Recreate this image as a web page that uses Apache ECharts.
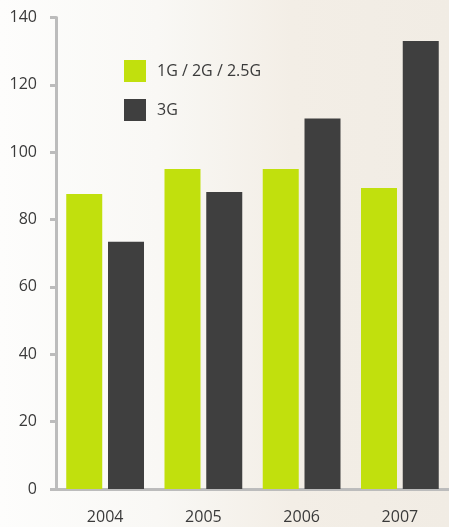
<!DOCTYPE html>
<html>
<head>
<meta charset="utf-8">
<script src="https://cdn.jsdelivr.net/npm/echarts@6/dist/echarts.min.js"></script>
<style>
  html, body { margin: 0; padding: 0; }
  #chart {
    width: 449px; height: 527px;
    background: linear-gradient(90deg, #fdfdfc 0%, #f9f8f5 35%, #f3eee6 65%, #f1ece4 100%);
  }
</style>
</head>
<body>
<div id="chart"></div>
<script>
var years = ["2004", "2005", "2006", "2007"];
var legacy = [87.6, 95, 95, 89.4];
var threeG = [73.4, 88.2, 110, 133];

var chart = echarts.init(document.getElementById("chart"));
var axisColor = "#bcbcbc";
var textColor = "#3a3a3a";
var font = "'Open Sans', 'Noto Sans', sans-serif";

chart.setOption({
  animation: false,
  textStyle: { fontFamily: font },
  legend: {
    orient: "vertical",
    left: 119,
    top: 55,
    itemWidth: 22,
    itemHeight: 22,
    itemGap: 17,
    icon: "rect",
    textStyle: { color: textColor, fontSize: 16, padding: [0, 0, 0, 6] },
    data: ["1G / 2G / 2.5G", "3G"]
  },
  grid: { left: 56, top: 17.5, width: 396, bottom: 38 },
  xAxis: {
    type: "category",
    data: years,
    axisLine: { lineStyle: { color: axisColor, width: 3 } },
    axisTick: { length: 6, lineStyle: { color: axisColor, width: 3 } },
    axisLabel: { color: textColor, fontSize: 16, margin: 20 }
  },
  yAxis: {
    type: "value",
    min: 0,
    max: 140,
    interval: 20,
    splitLine: { show: false },
    axisLine: { show: true, lineStyle: { color: axisColor, width: 3 } },
    axisTick: { show: true, length: 6, lineStyle: { color: axisColor, width: 3 } },
    axisLabel: { color: textColor, fontSize: 16, margin: 19 }
  },
  series: [
    {
      name: "1G / 2G / 2.5G",
      type: "bar",
      data: legacy,
      barWidth: 36,
      barGap: "16%",
      itemStyle: { color: "#c1e00d" }
    },
    {
      name: "3G",
      type: "bar",
      data: threeG,
      barWidth: 36,
      itemStyle: { color: "#3f3f3f" }
    }
  ]
});
</script>
</body>
</html>
